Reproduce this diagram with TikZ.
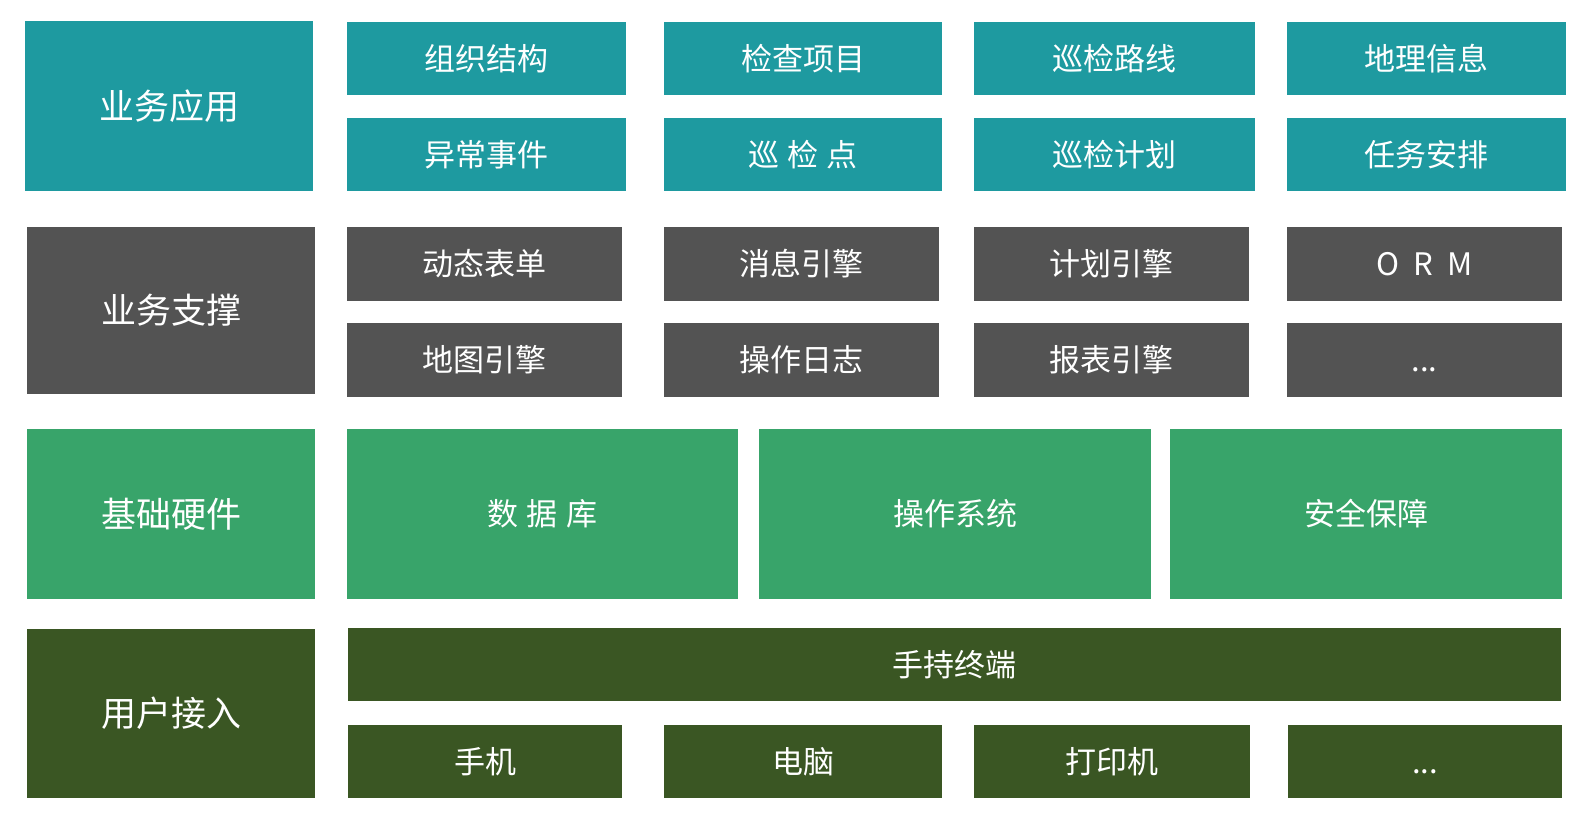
\documentclass[tikz,border=0pt]{standalone}
\usepackage{fontspec}
\newfontfamily\cjk{Noto Sans CJK SC}
\definecolor{teal1}{HTML}{1E9AA0}
\definecolor{gray1}{HTML}{535353}
\definecolor{green1}{HTML}{38A46A}
\definecolor{dgreen1}{HTML}{3A5623}
\newcommand{\gp}{\hspace{8.5pt}}
\begin{document}
\begin{tikzpicture}[x=1pt,y=-1pt,
  cell/.style={fill=#1, draw=none, inner sep=0pt, outer sep=0pt, text=white,
    align=center},
  big/.style={font=\cjk\fontsize{35}{40}\selectfont, text height=30.8pt, text depth=4.2pt},
  small/.style={font=\cjk\fontsize{31}{36}\selectfont, text height=27.3pt, text depth=3.7pt},
  sz/.style n args={2}{minimum width=#1pt, minimum height=#2pt}]
\useasboundingbox[fill=white] (0,0) rectangle (1591,821);
% Row 1
\node[cell=teal1, big, sz={288}{170}] (L1) at (169,106) {业务应用};
\node[cell=teal1, small, sz={279}{73}] (a11) at (486.5,58.5) {组织结构};
\node[cell=teal1, small, sz={278}{73}] (a12) at (803,58.5) {检查项目};
\node[cell=teal1, small, sz={281}{73}] (a13) at (1114.5,58.5) {巡检路线};
\node[cell=teal1, small, sz={279}{73}] (a14) at (1426.5,58.5) {地理信息};
\node[cell=teal1, small, sz={279}{73}] (a21) at (486.5,154.5) {异常事件};
\node[cell=teal1, small, sz={278}{73}] (a22) at (803,154.5) {巡\gp 检\gp 点};
\node[cell=teal1, small, sz={281}{73}] (a23) at (1114.5,154.5) {巡检计划};
\node[cell=teal1, small, sz={279}{73}] (a24) at (1426.5,154.5) {任务安排};
% Row 2
\node[cell=gray1, big, sz={288}{167}] (L2) at (171,310.5) {业务支撑};
\node[cell=gray1, small, sz={275}{74}] (b11) at (484.5,264) {动态表单};
\node[cell=gray1, small, sz={275}{74}] (b12) at (801.5,264) {消息引擎};
\node[cell=gray1, small, sz={275}{74}] (b13) at (1111.5,264) {计划引擎};
\node[cell=gray1, small, sz={275}{74}] (b14) at (1424.5,264) {O\hspace{14pt}R\hspace{14pt}M};
\node[cell=gray1, small, sz={275}{74}] (b21) at (484.5,360) {地图引擎};
\node[cell=gray1, small, sz={275}{74}] (b22) at (801.5,360) {操作日志};
\node[cell=gray1, small, sz={275}{74}] (b23) at (1111.5,360) {报表引擎};
\node[cell=gray1, small, sz={275}{74}] (b24) at (1424.5,360) {...};
% Row 3
\node[cell=green1, big, sz={288}{170}] (L3) at (171,514) {基础硬件};
\node[cell=green1, small, sz={391}{170}] (c1) at (542.5,514) {数\gp 据\gp 库};
\node[cell=green1, small, sz={392}{170}] (c2) at (955,514) {操作系统};
\node[cell=green1, small, sz={392}{170}] (c3) at (1366,514) {安全保障};
% Row 4
\node[cell=dgreen1, big, sz={288}{169}] (L4) at (171,713.5) {用户接入};
\node[cell=dgreen1, small, sz={1213}{73}] (d0) at (954.5,664.5) {手持终端};
\node[cell=dgreen1, small, sz={274}{73}] (d1) at (485,761.5) {手机};
\node[cell=dgreen1, small, sz={278}{73}] (d2) at (803,761.5) {电脑};
\node[cell=dgreen1, small, sz={276}{73}] (d3) at (1112,761.5) {打印机};
\node[cell=dgreen1, small, sz={274}{73}] (d4) at (1425,761.5) {...};
\end{tikzpicture}
\end{document}
